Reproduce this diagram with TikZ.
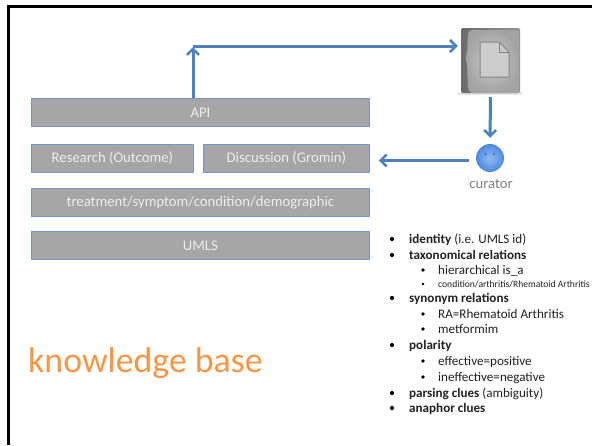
\documentclass[tikz,border=0pt]{standalone}
\usepackage{fontspec}
\setmainfont{Carlito}
\usetikzlibrary{arrows.meta,shadings}
\definecolor{boxfill}{HTML}{A6A6A6}
\definecolor{boxline}{HTML}{7398C8}
\definecolor{arrowblue}{HTML}{4F81BD}
\definecolor{orangetxt}{HTML}{F79646}
\definecolor{boxtxt}{HTML}{EDEDED}
\definecolor{bodytxt}{HTML}{222222}
\definecolor{faceinner}{HTML}{8FBBF5}
\definecolor{faceouter}{HTML}{4F8ADC}
\definecolor{faceline}{HTML}{4674B8}
\tikzset{
  layer/.style={draw=boxline,line width=0.8pt,fill=boxfill,text=boxtxt,font=\fontsize{14.7}{15}\selectfont,inner sep=0pt,anchor=north west,minimum height=28pt},
  flow/.style={draw=arrowblue,line width=3pt,-{Straight Barb[length=6pt,width=12pt,line width=2.6pt]}},
  lvla/.style={anchor=base west,inner sep=0pt,text=bodytxt,font=\fontsize{13.1}{14}\selectfont},
  lvlb/.style={anchor=base west,inner sep=0pt,text=bodytxt,font=\fontsize{9.6}{10}\selectfont},
  dot/.style={circle,fill=black,inner sep=0pt,minimum size=#1},
  frameline/.style={draw=black,line width=3pt}
}
\begin{document}
\begin{tikzpicture}[x=1pt,y=-1pt]
\useasboundingbox (0,0) rectangle (592,445);
\fill[white] (0,0) rectangle (592,445);
\coordinate (fc) at (8.5,445);
\coordinate (fa) at (8.5,6.5);
\coordinate (fb) at (592,6.5);
\draw[frameline] (fc) -- (fa) -- (fb);
% layers
\node[layer,minimum width=338pt] (api) at (31,98) {API};
\node[layer,minimum width=162pt] (research) at (31,144) {Research (Outcome)};
\node[layer,minimum width=166pt] (discussion) at (203,144) {Discussion (Gromin)};
\node[layer,minimum width=338pt] (treat) at (31,188) {treatment/symptom/condition/demographic};
\node[layer,minimum width=338pt] (umls) at (31,231) {UMLS};
% folder icon
\node[inner sep=0pt,minimum width=59pt,minimum height=66pt] (folder) at (490.5,61) {};
\fill[black!10] (458,92) rectangle (522,95);
\shade[left color=black!58,right color=black!42,rounded corners=1.5pt] (461,28) rectangle (520,93);
\shade[inner color=black!20,outer color=black!36,rounded corners=2pt]
  (470,30) -- (519,30) -- (519,93) -- (470,93) -- (468,88) -- (467,62) -- (465,58) -- (467,54) -- (468,34) -- cycle;
\fill[black!20,draw=black!48,line width=1pt] (480,42) -- (499,42) -- (509,52) -- (509,77) -- (480,77) -- cycle;
\draw[black!48,line width=1pt] (499,42) -- (499,52) -- (509,52);
% curator icon
\node[inner sep=0pt,minimum size=28pt,circle] (smile) at (490,158) {};
\shade[inner color=faceinner,outer color=faceouter] (490,158) circle (14);
\fill[faceline] (485.5,154) circle (1.3) (494,154) circle (1.3);
\draw[faceline!70!faceinner,line width=0.4pt] (482,164) .. controls (486,168) and (494,168) .. (498,164);
\node[anchor=base,inner sep=0pt,text=black!50,font=\fontsize{14.7}{15}\selectfont] (curatorlabel) at (491,188) {curator};
% connectors
\coordinate (corner) at (193,46);
\coordinate (apiout) at (193,98);
\coordinate (curin) at (469,160.5);
\draw[flow,shorten >=1pt] (apiout) -- (corner);
\draw[flow,shorten >=3pt] (corner) -- (folder.west |- corner);
\draw[flow,shorten <=3pt,shorten >=6pt] (folder.south) -- (smile.north);
\draw[flow,shorten >=9pt] (curin) -- (discussion.east |- curin);
% title
\node[anchor=base west,inner sep=0pt,text=orangetxt,font=\fontsize{35.8}{36}\selectfont] (title) at (28,372) {knowledge base};
% list
\foreach \yy/\nm in {239/a,255/b,298/c,345/d,393/e,408/f}{\node[dot=4.2pt] (bul\nm) at (392,\yy) {};}
\foreach \yy/\nm in {270/g,314/h,329/i,361/j,377/k}{\node[dot=3.8pt] (bul\nm) at (423,\yy) {};}
\node[dot=2.6pt] (bull) at (423,284) {};
\node[lvla] (t1) at (409,243) {\textbf{identity} (i.e. UMLS id)};
\node[lvla] (t2) at (409,259) {\textbf{taxonomical relations}};
\node[lvla] (t3) at (438,274.5) {hierarchical is\_a};
\node[lvlb] (t4) at (438,287) {condition/arthritis/Rhematoid Arthritis};
\node[lvla] (t5) at (409,302) {\textbf{synonym relations}};
\node[lvla] (t6) at (438,318) {RA=Rhematoid Arthritis};
\node[lvla] (t7) at (438,333) {metformim};
\node[lvla] (t8) at (409,349) {\textbf{polarity}};
\node[lvla] (t9) at (438,365) {effective=positive};
\node[lvla] (t10) at (438,381) {ineffective=negative};
\node[lvla] (t11) at (409,397) {\textbf{parsing clues} (ambiguity)};
\node[lvla] (t12) at (409,412) {\textbf{anaphor clues}};
\end{tikzpicture}
\end{document}
